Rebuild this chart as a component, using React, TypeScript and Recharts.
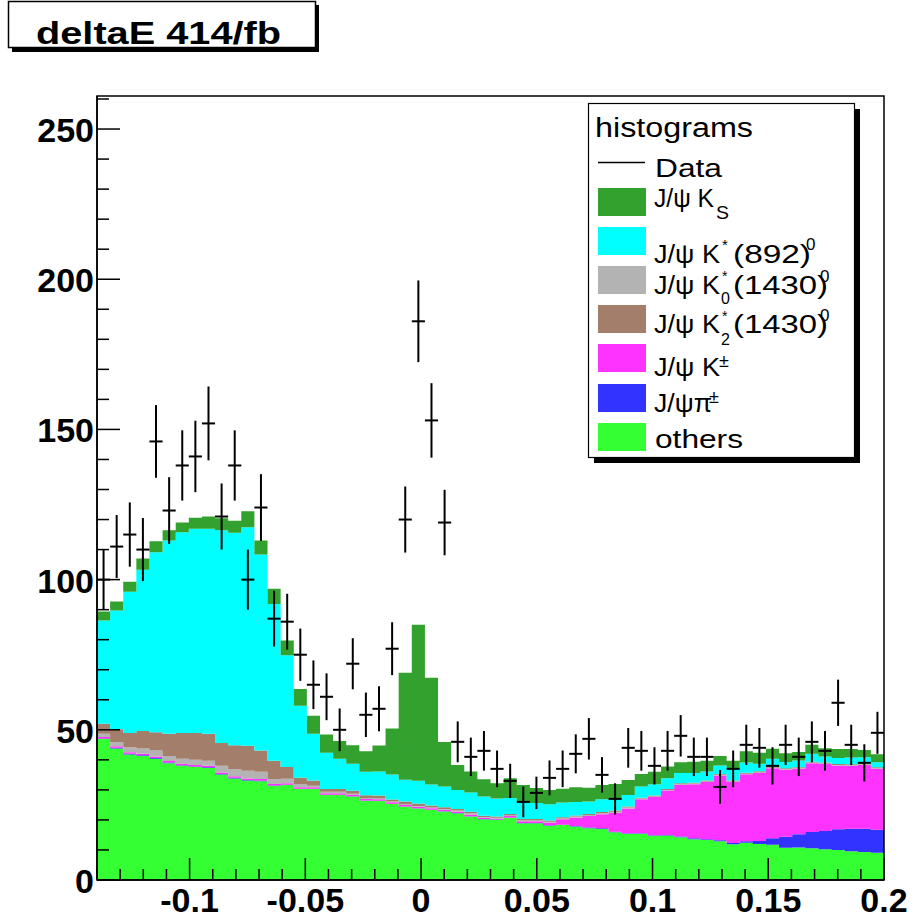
import React from 'react';
import { ComposedChart, Area, Scatter, ErrorBar, XAxis, YAxis, ReferenceArea } from 'recharts';

// Histogram definition
const X_MIN = -0.14;
const X_MAX = 0.2;
const N_BINS = 60;
const BIN_W = (X_MAX - X_MIN) / N_BINS;

// Stacked MC components (bottom to top), per bin
const others = [46.9,43.8,41.8,41.3,40.4,38.9,38.0,37.6,37.3,35.1,
  33.8,33.1,32.9,31.3,31.6,30.3,30.3,28.3,28.3,27.8,
  26.4,26.3,25.3,24.4,23.8,23.3,22.8,22.2,21.1,20.2,
  20.0,20.7,18.9,18.9,18.1,18.3,17.8,17.2,17.0,15.9,
  15.4,15.4,14.7,14.8,14.2,13.6,13.3,12.9,11.9,12.4,
  12.0,11.7,10.7,10.8,10.6,10.2,10.0,9.6,9.3,9.1];
const jpsiPi = [0.2,0.2,0.2,0.2,0.2,0.2,0.2,0.2,0.2,0.2,
  0.2,0.2,0.2,0.2,0.1,0.1,0.1,0.1,0.1,0.1,
  0.1,0.1,0.1,0.1,0.1,0.1,0.1,0.1,0.1,0.1,
  0.1,0.1,0.1,0.1,0.1,0.1,0.2,0.3,0.2,0.2,
  0.2,0.2,0.2,0.2,0.3,0.3,0.3,0.3,0.4,0.5,
  1.0,2.2,3.7,4.4,5.4,6.1,6.9,7.5,7.8,7.6];
const jpsiKpm = [0.5,0.5,0.5,0.5,0.5,0.5,0.5,0.5,0.5,0.5,
  0.5,0.5,0.5,0.5,0.5,0.5,0.5,0.5,0.5,0.5,
  0.5,0.5,0.5,0.5,0.5,0.5,0.5,0.5,0.5,0.4,
  0.3,0.5,0.6,0.6,0.9,1.8,2.8,3.8,4.7,6.3,
  8.2,11.3,12.7,14.8,17.2,18.0,19.0,21.6,20.3,22.3,
  22.7,23.3,22.3,21.8,22.9,22.3,21.2,20.9,21.2,20.3];
const jpsiK0 = [1.1,1.4,1.7,1.8,2.0,1.7,1.7,1.7,1.7,2.2,
  2.4,2.6,2.4,1.6,1.5,1.1,0.5,0.5,0.5,0.3,
  0.2,0.2,0.2,0.2,0.2,0.2,0.2,0.3,0.5,0.3,
  0.3,0.3,0.3,0.3,0.3,0.3,0.3,0.3,0.3,0.3,
  0.3,0.2,0.2,0.2,0.2,0.2,0.2,0.2,0.2,0.2,
  0.2,0.2,0.2,0.2,0.2,0.2,0.2,0.2,0.2,0.2];
const jpsiK2 = [3.3,4.3,4.7,5.8,6.1,7.4,8.5,8.9,9.0,7.6,
  8.0,8.3,7.1,6.1,3.9,2.0,1.7,0.9,0.9,1.0,
  1.0,1.0,0.7,0.9,0.9,0.7,0.6,0.5,0.5,0.4,
  0.4,0.4,0.4,0.4,0.4,0.4,0.4,0.4,0.4,0.4,
  0.4,0.3,0.3,0.3,0.3,0.3,0.3,0.3,0.3,0.3,
  0.3,0.3,0.3,0.3,0.3,0.3,0.3,0.3,0.3,0.3];
const jpsiK892 = [34.4,39.5,47.1,53.7,59.9,64.3,66.9,68.0,68.2,70.8,
  70.7,72.7,65.3,52.2,37.2,24.0,15.6,12.1,10.1,9.0,
  7.8,8.0,8.3,7.3,7.5,7.0,6.9,6.4,6.4,6.4,
  6.0,5.3,5.6,5.3,5.4,4.9,4.5,4.1,4.3,4.0,
  3.8,3.7,3.8,3.6,3.4,3.2,3.0,2.8,3.9,3.4,
  2.5,2.7,2.1,2.3,2.6,2.0,2.0,2.3,2.1,1.7];
const jpsiKs = [3.0,3.0,3.3,3.7,3.7,3.4,3.2,3.7,4.1,4.0,
  4.0,5.4,4.6,5.1,4.9,5.6,6.0,6.0,5.9,6.2,
  6.9,8.7,15.3,35.6,52.0,35.5,14.8,8.3,7.0,5.7,
  5.1,6.6,5.7,5.0,4.8,4.6,4.9,4.6,4.7,4.9,
  5.0,4.2,4.1,3.9,3.6,3.8,3.6,3.2,2.7,3.8,
  3.7,3.3,2.9,2.8,3.0,2.8,3.0,2.8,2.4,2.7];

// Data counts and their errors
const dataCounts = [100,111,115,110,146,123,138,141,152,121,
  138,100,124,87,86,75,65,61,50,72,
  55,57,77,120,186,153,119,46,41,43,
  37,33,26,29,34,37,42,47,35,27,
  44,43,38,43,48,41,41,31,37,45,
  44,38,45,41,46,43,59,45,39,49];
const dataErrors = [10.0,10.5,10.7,10.5,12.1,11.1,11.7,11.9,12.3,11.0,
  11.7,10.0,11.1,9.3,9.3,8.7,8.1,7.8,7.1,8.5,
  7.4,7.5,8.8,11.0,13.6,12.4,10.9,6.8,6.4,6.6,
  6.1,5.7,5.1,5.4,5.8,6.1,6.5,6.9,5.9,5.2,
  6.6,6.6,6.2,6.6,6.9,6.4,6.4,5.6,6.1,6.7,
  6.6,6.2,6.7,6.4,6.8,6.6,7.7,6.7,6.2,7.0];

// Axis ticks
const xTicks = [-0.14,-0.13,-0.12,-0.11,-0.1,-0.09,-0.08,-0.07,-0.06,-0.05,-0.04,-0.03,-0.02,-0.01,0,
  0.01,0.02,0.03,0.04,0.05,0.06,0.07,0.08,0.09,0.1,0.11,0.12,0.13,0.14,0.15,0.16,0.17,0.18,0.19,0.2];
const xMajorTicks = [-0.1,-0.05,0,0.05,0.1,0.15,0.2];
const xMajorLabels = ['-0.1','-0.05','0','0.05','0.1','0.15','0.2'];
const yTicks = [0,10,20,30,40,50,60,70,80,90,100,110,120,130,140,150,160,170,180,190,200,210,220,230,240,250,260];
const yMajorTicks = [0,50,100,150,200,250];
const yMajorLabels = ['0','50','100','150','200','250'];

const COLORS = {
  others: '#33ff33',
  pi: '#3333ff',
  kpm: '#ff33ff',
  k0: '#b3b3b3',
  k2: '#a27e6b',
  k892: '#00ffff',
  ks: '#32a12d',
};

const FONT = "'Liberation Sans', Arial, Helvetica, sans-serif";

const stackRows = Array.from({ length: N_BINS + 1 }, (_, i) => {
  const j = Math.min(i, N_BINS - 1);
  return {
    x: X_MIN + i * BIN_W,
    others: others[j],
    pi: jpsiPi[j],
    kpm: jpsiKpm[j],
    k0: jpsiK0[j],
    k2: jpsiK2[j],
    k892: jpsiK892[j],
    ks: jpsiKs[j],
  };
});

const dataRows = dataCounts.map((c, i) => ({
  x: X_MIN + (i + 0.5) * BIN_W,
  y: c,
  err: dataErrors[i],
  xerr: BIN_W / 2,
}));

const XTick = (props: any) => {
  const { x, y, payload } = props;
  const v = payload.value;
  const idx = xMajorTicks.findIndex((m) => Math.abs(m - v) < 1e-6);
  const major = idx >= 0;
  return (
    <g>
      <line x1={x} y1={y} x2={x} y2={y - (major ? 22 : 11)} stroke="#000" strokeWidth={1.5} />
      {major && (
        <text x={x} y={y + 32} textAnchor="middle" fontSize={34} fontWeight="bold" fontFamily={FONT} fill="#000">
          {xMajorLabels[idx]}
        </text>
      )}
    </g>
  );
};

const YTick = (props: any) => {
  const { x, y, payload } = props;
  const v = payload.value;
  const idx = yMajorTicks.indexOf(v);
  const major = idx >= 0;
  return (
    <g>
      <line x1={x} y1={y} x2={x + (major ? 23 : 12)} y2={y} stroke="#000" strokeWidth={1.5} />
      {major && (
        <text x={x - 3} y={y + 13} textAnchor="end" fontSize={34} fontWeight="bold" fontFamily={FONT} fill="#000">
          {yMajorLabels[idx]}
        </text>
      )}
    </g>
  );
};

const legendSwatches = [
  { key: 'ks', y: 188 },
  { key: 'k892', y: 227 },
  { key: 'k0', y: 266 },
  { key: 'k2', y: 305 },
  { key: 'kpm', y: 344 },
  { key: 'pi', y: 384 },
  { key: 'others', y: 423 },
];

const Overlay = () => (
  <svg width={914} height={923} style={{ position: 'absolute', left: 0, top: 0, pointerEvents: 'none' }}>
    {/* title box */}
    <rect x={12} y={5} width={307} height={47} fill="#000" />
    <rect x={8.5} y={1.5} width={307} height={46} fill="#fff" stroke="#000" strokeWidth={1.5} />
    <text x={36} y={44} fontSize={31} fontWeight="bold" fontFamily={FONT} textLength={245} lengthAdjust="spacingAndGlyphs">deltaE 414/fb</text>

    {/* legend box */}
    <rect x={594} y={109} width={266} height={354} fill="#000" />
    <rect x={588.5} y={103.5} width={266} height={354} fill="#fff" stroke="#000" strokeWidth={1.2} />
    <g fontFamily={FONT} fill="#000">
      <text x={595} y={137} fontSize={27} textLength={158} lengthAdjust="spacingAndGlyphs">histograms</text>
      <line x1={598} x2={645} y1={162.5} y2={162.5} stroke="#000" strokeWidth={1.5} />
      <text x={655} y={177} fontSize={26} textLength={67} lengthAdjust="spacingAndGlyphs">Data</text>
      {legendSwatches.map((s) => (
        <rect key={s.key} x={598} y={s.y} width={48} height={28} fill={(COLORS as any)[s.key]} />
      ))}
      {/* J/psi K_S */}
      <text x={654} y={207} fontSize={25} textLength={60} lengthAdjust="spacingAndGlyphs">J/ψ K</text>
      <text x={716} y={219} fontSize={18} textLength={13} lengthAdjust="spacingAndGlyphs">S</text>
      {/* J/psi K*(892)0 */}
      <text x={654} y={263} fontSize={26} textLength={66} lengthAdjust="spacingAndGlyphs">J/ψ K</text>
      <text x={722} y={250} fontSize={15}>*</text>
      <text x={733} y={263} fontSize={26} textLength={78} lengthAdjust="spacingAndGlyphs">(892)</text>
      <text x={806} y={250} fontSize={17}>0</text>
      {/* J/psi K0*(1430)0 */}
      <text x={654} y={294} fontSize={26} textLength={66} lengthAdjust="spacingAndGlyphs">J/ψ K</text>
      <text x={722} y={281} fontSize={14}>*</text>
      <text x={721} y={304} fontSize={16}>0</text>
      <text x={733} y={294} fontSize={26} textLength={95} lengthAdjust="spacingAndGlyphs">(1430)</text>
      <text x={820} y={282} fontSize={17}>0</text>
      {/* J/psi K2*(1430)0 */}
      <text x={654} y={333} fontSize={26} textLength={66} lengthAdjust="spacingAndGlyphs">J/ψ K</text>
      <text x={722} y={321} fontSize={14}>*</text>
      <text x={721} y={345} fontSize={16}>2</text>
      <text x={733} y={333} fontSize={26} textLength={95} lengthAdjust="spacingAndGlyphs">(1430)</text>
      <text x={820} y={321} fontSize={17}>0</text>
      {/* J/psi K+- */}
      <text x={654} y={376} fontSize={26} textLength={66} lengthAdjust="spacingAndGlyphs">J/ψ K</text>
      <text x={719} y={367} fontSize={18}>±</text>
      {/* J/psi pi+- */}
      <text x={654} y={412} fontSize={26} textLength={58} lengthAdjust="spacingAndGlyphs">J/ψπ</text>
      <text x={709} y={403} fontSize={18}>±</text>
      {/* others */}
      <text x={655} y={448} fontSize={26} textLength={88} lengthAdjust="spacingAndGlyphs">others</text>
    </g>
  </svg>
);

export default function App() {
  return (
    <div style={{ position: 'absolute', left: 0, top: 0, width: 914, height: 923, background: '#fff' }}>
      <ComposedChart
        width={914}
        height={923}
        data={stackRows}
        margin={{ top: 96, right: 30, bottom: 0, left: 0 }}
      >
        <XAxis
          dataKey="x"
          type="number"
          domain={[X_MIN, X_MAX]}
          ticks={xTicks}
          interval={0}
          allowDataOverflow
          height={43}
          tickSize={0}
          tickMargin={0}
          tickLine={false}
          axisLine={{ stroke: '#000', strokeWidth: 1.5 }}
          tick={<XTick />}
        />
        <YAxis
          type="number"
          domain={[0, 261]}
          ticks={yTicks}
          interval={0}
          allowDataOverflow
          width={97}
          tickSize={0}
          tickMargin={0}
          tickLine={false}
          axisLine={{ stroke: '#000', strokeWidth: 1.5 }}
          tick={<YTick />}
        />
        <Area type="stepAfter" dataKey="others" stackId="s" stroke="none" fill={COLORS.others} fillOpacity={1} isAnimationActive={false} />
        <Area type="stepAfter" dataKey="pi" stackId="s" stroke="none" fill={COLORS.pi} fillOpacity={1} isAnimationActive={false} />
        <Area type="stepAfter" dataKey="kpm" stackId="s" stroke="none" fill={COLORS.kpm} fillOpacity={1} isAnimationActive={false} />
        <Area type="stepAfter" dataKey="k0" stackId="s" stroke="none" fill={COLORS.k0} fillOpacity={1} isAnimationActive={false} />
        <Area type="stepAfter" dataKey="k2" stackId="s" stroke="none" fill={COLORS.k2} fillOpacity={1} isAnimationActive={false} />
        <Area type="stepAfter" dataKey="k892" stackId="s" stroke="none" fill={COLORS.k892} fillOpacity={1} isAnimationActive={false} />
        <Area type="stepAfter" dataKey="ks" stackId="s" stroke="none" fill={COLORS.ks} fillOpacity={1} isAnimationActive={false} />
        <Scatter data={dataRows} dataKey="y" shape={() => <g />} isAnimationActive={false}>
          <ErrorBar dataKey="err" direction="y" width={0} stroke="#000" strokeWidth={2} />
          <ErrorBar dataKey="xerr" direction="x" width={0} stroke="#000" strokeWidth={2} />
        </Scatter>
        <ReferenceArea x1={X_MIN} x2={X_MAX} y1={0} y2={261} fill="none" stroke="#000" strokeWidth={1.5} ifOverflow="visible" />
      </ComposedChart>
      <Overlay />
    </div>
  );
}
